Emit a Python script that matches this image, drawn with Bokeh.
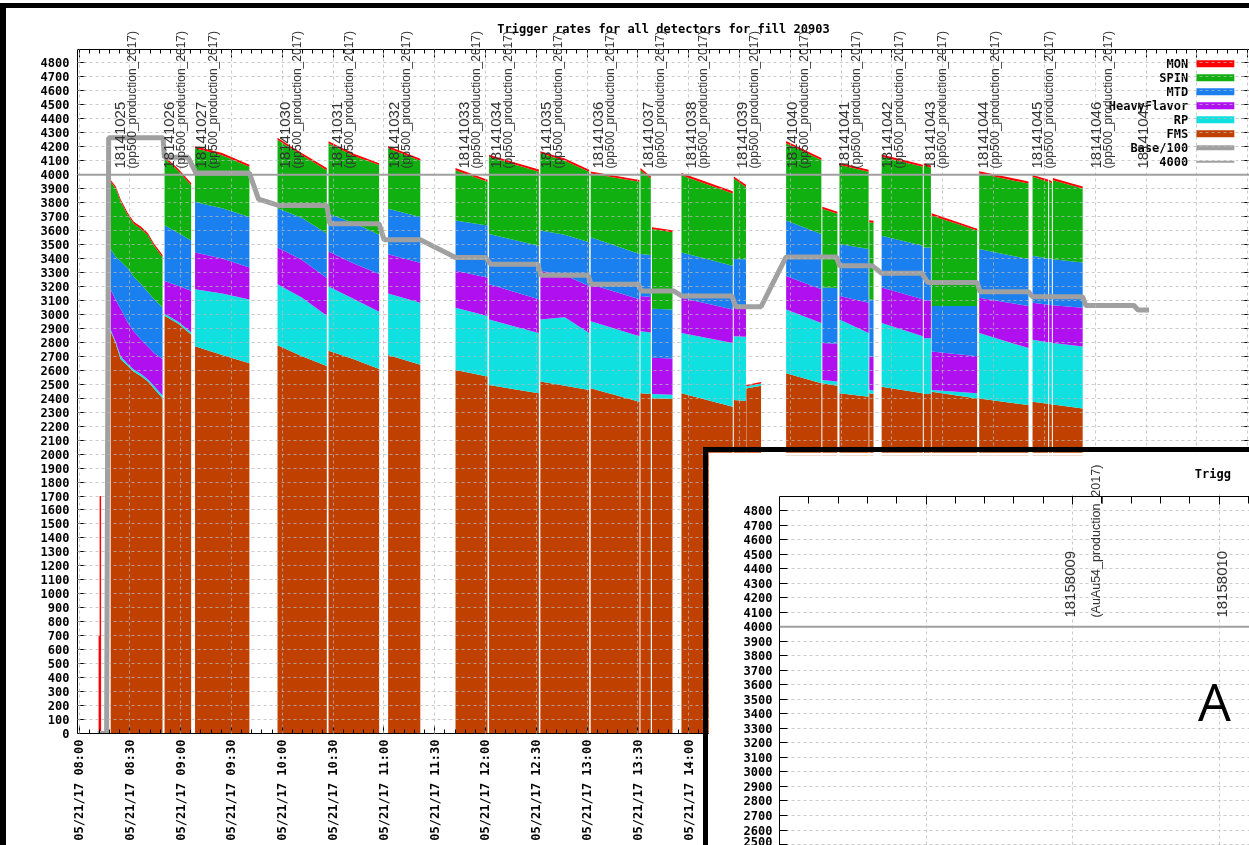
import numpy as np
import pandas as pd
from bokeh.plotting import figure
from bokeh.layouts import column
from bokeh.models import (ColumnDataSource, LabelSet, Label, FixedTicker, DatetimeTickFormatter,
                          LinearAxis, DatetimeAxis, Range1d, Span, CustomJSTickFormatter,
                          BoxAnnotation)
from bokeh.core.properties import value
from bokeh.embed import file_html
from bokeh.resources import INLINE

# ------------------------------------------------------------------ data (fill 20903)
MAIN_T0 = pd.Timestamp("2017-05-21 08:00")
series_names = ["FMS", "RP", "HeavyFlavor", "MTD", "SPIN", "MON"]
series_colors = ["#c04000", "#10e0e0", "#b010f0", "#1a80f0", "#10b010", "#ff0000"]

# segment id of every sample (a run, or a part of a run, drawn as one block)
segment = [0, 0, 0, 0, 0, 0, 0, 0, 0,
           1, 1, 1, 2, 2, 2, 3, 3, 3, 4, 4, 4, 5, 5, 6, 6, 7, 7, 8, 8, 8,
           9, 9, 10, 10, 11, 11, 12, 12, 13, 13, 14, 14, 15, 15, 16, 16, 17, 17,
           18, 18, 19, 19, 20, 20, 21, 21, 22, 22, 23, 23, 24, 24, 25, 25]
# minutes after 08:00
t_min = [18.7, 21.7, 24.6, 28.8, 32.3, 36.5, 40.7, 44.2, 49.3,
         50.5, 58.4, 66.2, 68.5, 84.5, 100.6, 117.2, 131.7, 146.3, 147.3, 162.3, 177.2,
         182.5, 201.5, 222.3, 241.2, 242.1, 271.5, 272.4, 286.8, 301.2,
         302.1, 330.9, 331.5, 337.6, 338.3, 350.4, 355.7, 386.0, 386.6, 393.8,
         394.0, 402.7, 417.5, 438.3, 438.9, 447.8, 449.0, 466.2,
         466.6, 469.1, 473.9, 498.2, 498.8, 503.0, 503.4, 530.3, 531.5, 560.6,
         563.0, 572.2, 572.8, 574.4, 575.0, 592.6]
fms = [2880, 2790, 2680, 2630, 2590, 2560, 2520, 2470, 2400,
       2990, 2935, 2857, 2772, 2710, 2651, 2780, 2700, 2630, 2740, 2680, 2610,
       2710, 2640, 2603, 2555, 2495, 2435, 2519, 2490, 2459,
       2471, 2375, 2435, 2430, 2400, 2395, 2435, 2340, 2387, 2380,
       2470, 2490, 2579, 2507, 2507, 2490, 2435, 2411,
       2435, 2430, 2483, 2435, 2430, 2430, 2447, 2399, 2399, 2351,
       2375, 2360, 2360, 2355, 2355, 2327]
rp = [10, 12, 20, 15, 15, 15, 15, 20, 20,
      15, 15, 15, 408, 440, 456, 436, 420, 360, 460, 430, 410,
      440, 443, 445, 433, 468, 432, 444, 490, 408,
      480, 468, 445, 440, 30, 30, 432, 455, 456, 460,
      15, 15, 456, 432, 24, 30, 528, 456,
      25, 25, 456, 408, 400, 400, 12, 36, 468, 408,
      444, 440, 440, 440, 440, 444]
hf = [290, 300, 340, 295, 275, 245, 235, 236, 260,
      235, 255, 298, 264, 250, 229, 264, 270, 270, 250, 255, 270,
      280, 287, 264, 276, 253, 241, 349, 300, 337,
      265, 265, 252, 255, 260, 260, 253, 240, 205, 205,
      0, 0, 241, 241, 264, 270, 169, 217,
      240, 240, 253, 265, 270, 270, 276, 265, 253, 301,
      265, 270, 270, 270, 270, 277]
mtd = [290, 310, 340, 390, 390, 398, 390, 384, 370,
       399, 380, 360, 361, 360, 361, 280, 300, 320, 270, 290, 280,
       326, 327, 361, 373, 360, 384, 288, 290, 312,
       336, 324, 300, 300, 350, 350, 324, 313, 348, 350,
       0, 0, 397, 396, 397, 400, 372, 384,
       408, 408, 372, 384, 380, 380, 325, 360, 348, 336,
       336, 330, 330, 330, 330, 324]
spin = [480, 490, 427, 381, 380, 396, 406, 384, 360,
        478, 445, 395, 384, 380, 360, 490, 450, 453, 505, 480, 499,
        434, 403, 360, 312, 553, 529, 553, 530, 505,
        457, 517, 601, 548, 572, 553, 553, 517, 577, 518,
        0, 0, 552, 529, 564, 530, 565, 553,
        552, 552, 565, 565, 589, 570, 649, 540, 541, 541,
        565, 550, 550, 545, 565, 529]
mon = [12, 14, 15, 16, 14, 15, 16, 14, 15,
       15, 14, 16, 15, 16, 14, 15, 14, 16, 15, 16, 14,
       15, 14, 16, 15, 14, 16, 15, 16, 14,
       15, 14, 16, 15, 12, 14, 15, 16, 14, 15,
       10, 12, 16, 15, 14, 15, 16, 14,
       14, 15, 16, 15, 14, 16, 15, 14, 16, 15,
       14, 16, 15, 14, 16, 15]

# early MON spikes
mon_spike_t = [12.0, 12.6]
mon_spike_v = [700, 1700]

# Base/100 curve
base_t = [11.0, 16.3, 17.5, 49.6, 50.4, 64.4, 69.1, 100.6, 106.0, 117.8, 146.3, 148.1, 177.2,
          180.1, 201.5, 222.3, 240.1, 243.0, 270.9, 272.7, 300.6, 302.4, 330.3, 332.0, 351.0,
          355.8, 385.5, 387.8, 402.7, 417.5, 447.2, 449.0, 468.5, 473.9, 497.6, 501.2, 530.3,
          532.0, 560.5, 562.9, 592.6, 594.4, 622.9, 625.3, 631.8]
base_v = [0, 0, 4265, 4265, 4125, 4125, 4012, 4012, 3825, 3780, 3780, 3650, 3650,
          3535, 3535, 3408, 3408, 3360, 3360, 3280, 3280, 3216, 3216, 3168, 3168,
          3132, 3132, 3055, 3055, 3412, 3412, 3348, 3348, 3295, 3295, 3228, 3228,
          3163, 3163, 3127, 3127, 3064, 3064, 3031, 3031]
threshold = 4000

# run markers
run_ids = ["18141025", "18141026", "18141027", "18141030", "18141031", "18141032", "18141033",
           "18141034", "18141035", "18141036", "18141037", "18141038", "18141039", "18141040",
           "18141041", "18141042", "18141043", "18141044", "18141045", "18141046", "18141047"]
run_t = [19.9, 49.0, 68.0, 117.2, 148.1, 181.9, 223.4, 241.8, 271.5, 302.4, 332.0, 357.0,
         387.2, 416.9, 447.8, 472.7, 498.2, 529.7, 561.7, 596.1, 624.1]
run_type = ["(pp500_production_2017)"] * 20 + [""]

legend_labels = ["MON", "SPIN", "MTD", "HeavyFlavor", "RP", "FMS", "Base/100", "4000"]
main_title = "Trigger rates for all detectors for fill 20903"

# ------------------------------------------------------------------ data (inset)
INSET_T0 = pd.Timestamp("2017-06-07 06:00")
inset_run_ids = ["18158009", "18158010"]
inset_run_t = [58.1, 89.2]
inset_run_type = ["(AuAu54_production_2017)", ""]

# ------------------------------------------------------------------ helpers
def main_ms(mins):
    return [MAIN_T0.value / 1e6 + m * 60000.0 for m in mins]

def inset_ms(mins):
    return [INSET_T0.value / 1e6 + m * 60000.0 for m in mins]

MONO = "DejaVu Sans Mono"
SANS = "Liberation Sans"
GRAY = "#a0a0a0"
blank = CustomJSTickFormatter(code="return ''")

# ------------------------------------------------------------------ main figure
# page geometry: canvas at (6, 8); axes box from x 77..1243, y 49..728
FW, FH = 1166, 713
YTOP = 4895                      # value at the plot's top border
YMAX = 5140                      # frame continues a little above the border for labels
x0, x1 = main_ms([-0.9, 691.1])

p = figure(x_axis_type="datetime", frame_width=FW, frame_height=FH,
           min_border_left=71, min_border_right=6, min_border_top=7, min_border_bottom=117,
           x_range=Range1d(x0, x1), y_range=Range1d(0, YMAX),
           output_backend="svg", toolbar_location=None,
           background_fill_color="white", border_fill_color="white",
           outline_line_color=None)

seg_arr = np.array(segment)
for s in sorted(set(segment)):
    idx = np.where(seg_arr == s)[0]
    src = ColumnDataSource(dict(
        t=main_ms([t_min[i] for i in idx]),
        FMS=[fms[i] for i in idx], RP=[rp[i] for i in idx],
        HeavyFlavor=[hf[i] for i in idx], MTD=[mtd[i] for i in idx],
        SPIN=[spin[i] for i in idx], MON=[mon[i] for i in idx]))
    p.varea_stack(stackers=series_names, x="t", color=series_colors, source=src)

p.segment(x0=main_ms(mon_spike_t), y0=[0] * len(mon_spike_t), x1=main_ms(mon_spike_t),
          y1=mon_spike_v, line_color="#ff0000", line_width=1.5)

# ticks
x_tick_min = list(range(0, 691, 30))
x_major = main_ms(x_tick_min)
x_minor = main_ms(list(range(0, 691, 6)))
xticker = FixedTicker(ticks=x_major, minor_ticks=x_minor)
yticker = FixedTicker(ticks=list(range(0, 4801, 100)))
fmt = "%m/%d/%y %H:%M"
dtf = DatetimeTickFormatter(minutes=fmt, hourmin=fmt, hours=fmt, days=fmt, minsec=fmt)

for g in (p.xgrid[0], p.ygrid[0]):
    g.grid_line_color = "#b8b8b8"
    g.grid_line_alpha = 0.75
    g.grid_line_dash = "3 3"
    g.grid_line_width = 1
    g.level = "guide"
p.xgrid[0].ticker = xticker
p.ygrid[0].ticker = yticker

# white band above the top border (hides grid there)
p.add_layout(BoxAnnotation(bottom=YTOP + 8, fill_color="white", fill_alpha=1.0,
                           line_color=None, level="guide"))

p.add_layout(Span(location=threshold, dimension="width", line_color=GRAY, line_width=2))
p.line(x=main_ms(base_t), y=base_v, line_color=GRAY, line_width=5)

xa = p.xaxis[0]
xa.ticker = xticker
xa.formatter = dtf
xa.major_label_orientation = np.pi / 2
# tick labels that lie under the inset picture are not shown
xa.major_label_overrides = {ms: "" for m, ms in zip(x_tick_min, x_major) if m > 360}
ya = p.yaxis[0]
ya.ticker = yticker
ya.bounds = (0, YTOP)
for ax in (xa, ya):
    ax.major_label_text_font = MONO
    ax.major_label_text_font_style = "bold"
    ax.major_label_text_font_size = "12px"
    ax.major_label_text_color = "black"
    ax.major_tick_in = 8
    ax.major_tick_out = 0
    ax.minor_tick_in = 4
    ax.minor_tick_out = 0
    ax.axis_line_color = "black"
    ax.major_tick_line_color = "black"
    ax.minor_tick_line_color = "black"
ya.major_label_standoff = 8
xa.major_label_standoff = 6

top_ax = DatetimeAxis(ticker=xticker, formatter=blank, fixed_location=YTOP,
                      major_tick_in=8, major_tick_out=0, minor_tick_in=4, minor_tick_out=0,
                      major_label_standoff=0, major_label_text_font_size="1px",
                      axis_line_color="black")
p.add_layout(top_ax, "above")
right_ax = LinearAxis(ticker=yticker, formatter=blank, bounds=(0, YTOP),
                      major_tick_in=8, major_tick_out=0, minor_tick_in=0, minor_tick_out=0,
                      major_label_standoff=0, major_label_text_font_size="1px",
                      axis_line_color="black")
p.add_layout(right_ax, "right")

def main_x_at(px):
    return x0 + (px - 77) / FW * (x1 - x0)

def main_y_at(py):
    return (728 - py) / FH * YMAX

# title (drawn inside the frame band above the border, like the original)
p.add_layout(Label(x=(x0 + x1) / 2, y=main_y_at(28), text=main_title, text_font=MONO,
                   text_font_style="bold", text_font_size="12px", text_color="black",
                   text_align="center", text_baseline="middle"))

# run labels
run_src = ColumnDataSource(dict(t=main_ms(run_t), y=[4045] * len(run_t), rid=run_ids, rtype=run_type))
p.add_layout(LabelSet(x="t", y="y", text="rid", source=run_src, angle=np.pi / 2, x_offset=12,
                      text_font=value(SANS), text_font_size="15px", text_color="#333333",
                      text_align="left", text_baseline="alphabetic"))
p.add_layout(LabelSet(x="t", y="y", text="rtype", source=run_src, angle=np.pi / 2, x_offset=23,
                      text_font=value(SANS), text_font_size="12px", text_color="#333333",
                      text_align="left", text_baseline="alphabetic"))

# legend (gnuplot style: text, then sample)
rows = [63 + 13.9 * i for i in range(len(legend_labels))]
p.text(x=[main_x_at(1182)] * len(rows), y=[main_y_at(r) for r in rows], text=legend_labels,
       text_align="right", text_baseline="middle", text_font=value(MONO),
       text_font_style="bold", text_font_size="12px", text_color="black")
sw_colors = ["#ff0000", "#10b010", "#1a80f0", "#b010f0", "#10e0e0", "#c04000", GRAY, GRAY]
sw_h = [7, 7, 7, 7, 7, 7, 5, 2]
p.rect(x=[main_x_at(1209)] * len(rows), y=[main_y_at(r) for r in rows], width=38, height=sw_h,
       width_units="screen", height_units="screen", fill_color=sw_colors, line_color=None)

p.styles = {"position": "fixed", "left": "0px", "top": "3px",
            "border-left": "6px solid black", "border-top": "5px solid black"}

# ------------------------------------------------------------------ inset figure
# canvas at (708, 452); axes box from x 777, y 495 (extends past the window)
IW, IH = 472, 390
ix0, ix1 = inset_ms([0.0, 97.66])
IY0, IYTOP = 2459, 4900
IYMAX = IYTOP + 40 / 350 * (IYTOP - IY0)
q = figure(x_axis_type="datetime", x_axis_location="above", frame_width=IW, frame_height=IH,
           min_border_left=69, min_border_top=3, min_border_right=0, min_border_bottom=0,
           x_range=Range1d(ix0, ix1), y_range=Range1d(IY0, IYMAX),
           output_backend="svg", toolbar_location=None,
           background_fill_color="white", border_fill_color="white", outline_line_color=None)
ixticker = FixedTicker(ticks=inset_ms([0, 30, 60, 90]), minor_ticks=inset_ms(list(range(0, 98, 6))))
iyticker = FixedTicker(ticks=list(range(2500, 4801, 100)))
for g in (q.xgrid[0], q.ygrid[0]):
    g.grid_line_color = "#b8b8b8"
    g.grid_line_alpha = 0.75
    g.grid_line_dash = "3 3"
q.xgrid[0].ticker = ixticker
q.ygrid[0].ticker = iyticker
q.add_layout(BoxAnnotation(bottom=IYTOP + 8, fill_color="white", fill_alpha=1.0,
                           line_color=None, level="guide"))

qa = q.xaxis[0]
qa.ticker = ixticker
qa.formatter = blank
qa.fixed_location = IYTOP
qa.major_label_text_font_size = "1px"
qa.major_label_standoff = 0
qa.major_tick_in = 8
qa.major_tick_out = 0
qa.minor_tick_in = 7
qa.minor_tick_out = 0
qy = q.yaxis[0]
qy.ticker = iyticker
qy.bounds = (IY0, IYTOP)
qy.major_label_text_font = MONO
qy.major_label_text_font_style = "bold"
qy.major_label_text_font_size = "12px"
qy.major_label_text_color = "black"
qy.major_label_standoff = 7
qy.major_tick_in = 8
qy.major_tick_out = 0
qy.minor_tick_in = 0
qy.minor_tick_out = 0
q.add_layout(Span(location=threshold, dimension="width", line_color=GRAY, line_width=2))

def inset_x_at(px):
    return ix0 + (px - 777) / IW * (ix1 - ix0)

def inset_y_at(py):
    return IYTOP - (py - 495) / 350 * (IYTOP - IY0)

isrc = ColumnDataSource(dict(t=inset_ms(inset_run_t), y=[4063] * len(inset_run_t),
                             rid=inset_run_ids, rtype=inset_run_type))
q.add_layout(LabelSet(x="t", y="y", text="rid", source=isrc, angle=np.pi / 2, x_offset=12,
                      text_font=value(SANS), text_font_size="15px", text_color="#333333",
                      text_align="left", text_baseline="alphabetic"))
q.add_layout(LabelSet(x="t", y="y", text="rtype", source=isrc, angle=np.pi / 2, x_offset=37,
                      text_font=value(SANS), text_font_size="12.5px", text_color="#333333",
                      text_align="left", text_baseline="alphabetic"))
q.add_layout(Label(x=inset_x_at(1188), y=inset_y_at(473), text="Trigg", text_font=MONO,
                   text_font_style="bold", text_font_size="12px", text_color="black",
                   text_baseline="middle", text_align="left"))
q.add_layout(Label(x=inset_x_at(1191), y=inset_y_at(697), text="A", text_font="Open Sans",
                   text_font_size="52px", text_color="black",
                   text_baseline="alphabetic", text_align="left"))

q.styles = {"position": "fixed", "left": "703px", "top": "447px", "z-index": "10",
            "border-left": "5px solid black", "border-top": "5px solid black"}

layout = column(p, q)
open("out.html", "w").write(file_html(layout, INLINE))
